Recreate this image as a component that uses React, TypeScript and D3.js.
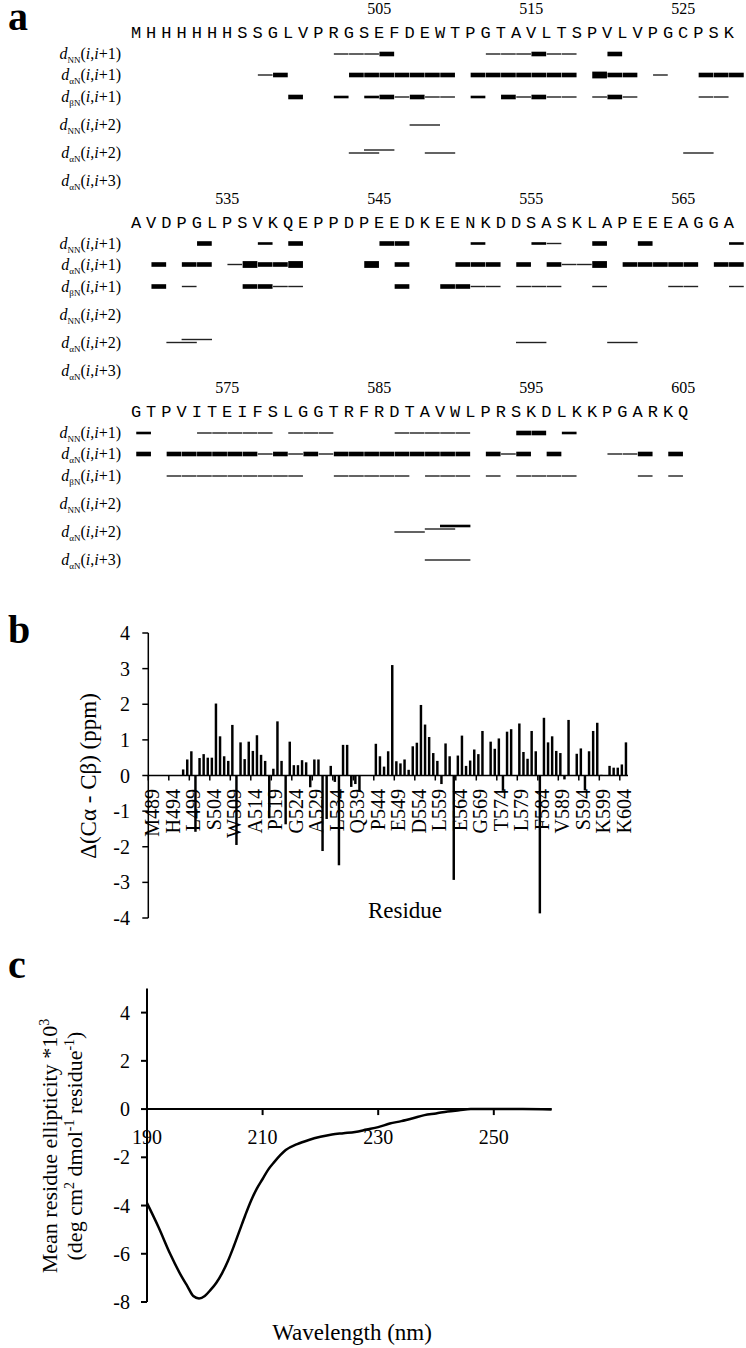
import * as d3 from "d3";

const serif = "'Liberation Serif', 'Times New Roman', serif";
const seqFont = "'Courier New', 'Liberation Mono', monospace";

// ---------- panel a: sequence and sequential NOE connectivities ----------
const sequence =
  "MHHHHHHSSGLVPRGSEFDEWTPGTAVLTSPVLVPGCPSK" +
  "AVDPGLPSVKQEPPDPEEDKEENKDDSASKLAPEEEAGGA" +
  "GTPVITEIFSLGGTRFRDTAVWLPRSKDLKKPGARKQ";
const firstResidue = 489;
const firstNumbered = 505;
const perLine = 40;

const noeRows = [
  { sub: "NN", k: 1 },
  { sub: "αN", k: 1 },
  { sub: "βN", k: 1 },
  { sub: "NN", k: 2 },
  { sub: "αN", k: 2 },
  { sub: "αN", k: 3 },
];

// [from residue, to residue, strength 1 weak .. 4 very strong, stack level]
const dNN1 = [
  [502, 505, 1], [505, 506, 3], [512, 515, 1], [515, 516, 3], [516, 518, 1], [520, 521, 3],
  [533, 534, 3], [537, 538, 2], [539, 540, 3], [545, 547, 3], [551, 552, 2], [555, 556, 2],
  [556, 557, 1], [559, 560, 3], [562, 563, 3], [568, 569, 2],
  [569, 570, 2], [573, 578, 1], [579, 582, 1], [586, 591, 1], [594, 596, 3], [597, 598, 2],
];
const daN1 = [
  [497, 498, 1], [498, 499, 3], [503, 510, 3], [511, 518, 3], [519, 520, 4], [520, 522, 3],
  [523, 524, 1], [526, 529, 3],
  [530, 531, 3], [532, 534, 3], [535, 536, 1], [536, 537, 4], [537, 539, 3], [539, 540, 4],
  [544, 545, 4], [546, 547, 3], [550, 553, 3], [554, 555, 3], [556, 557, 3], [557, 559, 1],
  [559, 560, 4], [561, 566, 3], [567, 569, 3],
  [569, 570, 3], [571, 577, 3], [577, 578, 1], [578, 579, 3], [579, 580, 1], [580, 581, 3],
  [581, 582, 1], [582, 591, 3], [592, 593, 3], [593, 594, 1], [594, 595, 3], [596, 597, 3],
  [600, 602, 1], [602, 603, 3], [604, 605, 3],
];
const dbN1 = [
  [499, 500, 3], [502, 503, 2], [504, 505, 2], [505, 506, 3], [506, 507, 1], [507, 508, 3],
  [508, 510, 1], [511, 512, 2], [513, 514, 3], [514, 515, 1], [515, 516, 3], [516, 518, 1],
  [519, 520, 1], [520, 521, 3], [521, 522, 1], [526, 528, 1],
  [530, 531, 3], [532, 533, 1], [536, 538, 3], [538, 540, 1], [546, 547, 3], [549, 551, 3],
  [551, 553, 1], [554, 557, 1], [559, 560, 1], [564, 566, 1], [568, 569, 1],
  [571, 580, 1], [582, 587, 1], [588, 591, 1], [592, 593, 1], [594, 598, 1], [602, 603, 1],
  [604, 605, 1],
];
const dNN2 = [[507, 509, 1]];
const daN2 = [
  [503, 505, 1, 0], [504, 506, 1, 1], [508, 510, 1, 0], [525, 527, 1, 0],
  [531, 533, 1, 0], [532, 534, 1, 1], [554, 556, 1, 0], [560, 562, 1, 0],
  [586, 588, 1, 0], [588, 590, 1, 1], [589, 591, 2, 2],
];
const daN3 = [[588, 591, 1]];
const noeData = [dNN1, daN1, dbN1, dNN2, daN2, daN3];

// ---------- panel b: secondary chemical shifts ----------
const deltaCaCb = [
  0, 0, 0, 0, 0, 0, 0, 0, 0.17, 0.45,
  0.68, -1.58, 0.49, 0.6, 0.5, 0.5, 2.02, 1.1, 0.54, 0.41,
  1.42, -1.95, 0.93, 0.46, 0.95, 0.69, 1.13, 0.58, 0.41, -1.2,
  0.19, 1.52, 0.41, -1.37, 0.95, 0.29, 0.29, 0.43, 0.37, -0.33,
  0.45, 0.45, -2.12, -1.22, 0.27, -0.18, -2.52, 0.86, 0.86, -0.32,
  -0.24, -0.45, 0, 0, 0, 0.89, 0.54, 0.25, 0.68, 3.1,
  0.4, 0.34, 0.45, 0.16, 0.82, 0.92, 1.98, 1.43, 1.08, 0.63,
  0.41, -0.24, 0.9, 0.54, -2.93, 0.56, 1.12, 0.27, 0.42, 0.73,
  0.6, 1.25, 0, 0.95, 0.75, 1.04, -0.43, 1.23, 1.3, 0,
  1.46, 0.66, 0.47, 1.25, 0.68, -3.87, 1.62, 0.93, 1.1, 0.69,
  0.63, -0.11, 1.56, 0, 0.61, 0.76, -0.42, 0.68, 1.25, 1.48,
  0.02, 0, 0.27, 0.22, 0.22, 0.31, 0.93,
];
const shiftTicks = [-4, -3, -2, -1, 0, 1, 2, 3, 4];

// ---------- panel c: far-UV CD spectrum ----------
const cdWavelength = [
  190, 192, 194, 196, 197, 198, 199, 200, 201, 202, 203, 204, 205, 206, 207, 208, 209, 210,
  211, 212, 214, 216, 218, 220, 222, 224, 226, 228, 230, 232, 234, 236, 238, 240, 242, 244,
  246, 248, 250, 255, 260,
];
const cdEllipticity = [
  -3.9, -4.9, -6.0, -6.95, -7.35, -7.75, -7.85, -7.75, -7.5, -7.2, -6.8, -6.3, -5.7, -5.05,
  -4.4, -3.8, -3.3, -2.9, -2.5, -2.2, -1.7, -1.45, -1.28, -1.15, -1.05, -1.0, -0.95, -0.85,
  -0.75, -0.6, -0.5, -0.38, -0.25, -0.18, -0.1, -0.05, 0, 0, 0, 0, -0.02,
];
const cdYTicks = [-8, -6, -4, -2, 0, 2, 4];
const cdXTicks = [190, 210, 230, 250];

function PanelA() {
  const x = d3.scaleLinear().domain([0, perLine - 1]).range([136, 728.8]);
  const lineTop = (b: number) => b * 189.5;
  const rowY = [54, 75, 97, 125, 153, 181];
  const thick: Record<number, number> = { 1: 1.4, 2: 2.6, 3: 4.6, 4: 6.8 };
  const lines = d3.range(Math.ceil(sequence.length / perLine));

  return (
    <g>
      <text x={8} y={30} fontFamily={serif} fontWeight="bold" fontSize={40}>a</text>
      {lines.map((b) => {
        const top = lineTop(b);
        const chars = sequence.slice(b * perLine, b * perLine + perLine).split("");
        return (
          <g key={b}>
            {chars.map((ch, j) => {
              const num = firstResidue + b * perLine + j;
              return (
                <g key={j}>
                  <text x={x(j)} y={top + 38} textAnchor="middle" fontFamily={seqFont} fontSize={17}>{ch}</text>
                  {num >= firstNumbered && num % 10 === 5 && (
                    <text x={x(j)} y={top + 14} textAnchor="middle" fontFamily={serif} fontSize={16}>{num}</text>
                  )}
                </g>
              );
            })}
            {noeRows.map((r, ri) => (
              <text key={ri} x={121} y={top + rowY[ri] + 5} textAnchor="end" fontFamily={serif} fontSize={16}>
                <tspan fontStyle="italic">d</tspan>
                <tspan fontSize={9} dy={4}>{r.sub}</tspan>
                <tspan dy={-4}>(</tspan>
                <tspan fontStyle="italic">i</tspan>
                <tspan>,</tspan>
                <tspan fontStyle="italic">i</tspan>
                <tspan>{`+${r.k})`}</tspan>
              </text>
            ))}
          </g>
        );
      })}
      {noeData.map((segs, ri) =>
        segs.map((s, si) => {
          const [from, to, str, lvl = 0] = s;
          const b = Math.floor((from - firstResidue) / perLine);
          const j0 = from - firstResidue - b * perLine;
          const j1 = to - firstResidue - b * perLine;
          const h = thick[str];
          const cy = lineTop(b) + rowY[ri] - lvl * 3;
          const color = str === 1 ? "#222" : "#000";
          if (noeRows[ri].k > 1) {
            return <rect key={`${ri}-${si}`} x={x(j0)} width={x(j1) - x(j0)} y={cy - h / 2} height={h} fill={color} />;
          }
          return (
            <g key={`${ri}-${si}`}>
              {d3.range(j0, j1).map((j) => (
                <rect key={j} x={x(j) + 0.25} width={x(j + 1) - x(j) - 0.5} y={cy - h / 2} height={h} fill={color} />
              ))}
            </g>
          );
        })
      )}
    </g>
  );
}

function PanelB() {
  const idx = d3.range(deltaCaCb.length);
  const x = d3.scaleBand<number>().domain(idx).range([148.3, 628]).paddingInner(0.4).paddingOuter(0.2);
  const y = d3.scaleLinear().domain([-4, 4]).range([918, 633]);
  const half = (x.step() - x.bandwidth()) / 2;
  const labelIdx = idx.filter((i) => i % 5 === 0);

  return (
    <g>
      <text x={8} y={643} fontFamily={serif} fontWeight="bold" fontSize={40}>b</text>
      {idx.filter((i) => deltaCaCb[i] !== 0).map((i) => {
        const v = deltaCaCb[i];
        return (
          <rect key={i} x={x(i)} width={x.bandwidth()} y={y(Math.max(0, v))} height={Math.abs(y(v) - y(0))} fill="#000" />
        );
      })}
      <line x1={x.range()[0]} x2={x.range()[0]} y1={y(4)} y2={y(-4)} stroke="#000" strokeWidth={1.5} />
      <line x1={x.range()[0]} x2={x.range()[1]} y1={y(0)} y2={y(0)} stroke="#000" strokeWidth={1.5} />
      {shiftTicks.map((t) => (
        <g key={t}>
          <line x1={x.range()[0] - 6} x2={x.range()[0]} y1={y(t)} y2={y(t)} stroke="#000" strokeWidth={1.5} />
          <text x={130} y={y(t)} dy="0.35em" textAnchor="end" fontFamily={serif} fontSize={20}>{t}</text>
        </g>
      ))}
      {labelIdx.map((i) => (
        <g key={i}>
          <line x1={x(i)! - half} x2={x(i)! - half} y1={y(0)} y2={y(0) + 5} stroke="#000" strokeWidth={1.5} />
          <text
            transform={`translate(${x(i)! + x.bandwidth() / 2 + 2},789) rotate(-90)`}
            textAnchor="end"
            dy="0.35em"
            fontFamily={serif}
            fontSize={20}
          >
            {`${sequence[i]}${firstResidue + i}`}
          </text>
        </g>
      ))}
      <text x={405} y={918} textAnchor="middle" fontFamily={serif} fontSize={23}>Residue</text>
      <text transform={`translate(96,776) rotate(-90)`} textAnchor="middle" fontFamily={serif} fontSize={23}>
        Δ(Cα - Cβ) (ppm)
      </text>
    </g>
  );
}

function PanelC() {
  const x = d3.scaleLinear().domain([190, 260]).range([147, 551.6]);
  const y = d3.scaleLinear().domain([-8, 5]).range([1302, 988.5]);
  const pts = cdWavelength.map((w, i) => [w, cdEllipticity[i]] as [number, number]);
  const line = d3
    .line<[number, number]>()
    .x((d) => x(d[0]))
    .y((d) => y(d[1]))
    .curve(d3.curveMonotoneX);

  return (
    <g>
      <text x={8} y={978} fontFamily={serif} fontWeight="bold" fontSize={40}>c</text>
      <path d={line(pts) ?? ""} fill="none" stroke="#000" strokeWidth={2.5} />
      <line x1={x(190)} x2={x(190)} y1={y(5)} y2={y(-8)} stroke="#000" strokeWidth={2} />
      <line x1={x(190)} x2={x(260)} y1={y(0)} y2={y(0)} stroke="#000" strokeWidth={2} />
      {cdYTicks.map((t) => (
        <g key={t}>
          <line x1={x(190) - 6} x2={x(190)} y1={y(t)} y2={y(t)} stroke="#000" strokeWidth={2} />
          <text x={130} y={y(t)} dy="0.35em" textAnchor="end" fontFamily={serif} fontSize={20}>{t}</text>
        </g>
      ))}
      {cdXTicks.map((t) => (
        <g key={t}>
          <line x1={x(t)} x2={x(t)} y1={y(0)} y2={y(0) + 6} stroke="#000" strokeWidth={2} />
          <text x={x(t)} y={y(0) + 35} textAnchor="middle" fontFamily={serif} fontSize={20}>{t}</text>
        </g>
      ))}
      <text x={352} y={1340} textAnchor="middle" fontFamily={serif} fontSize={23}>Wavelength (nm)</text>
      <text transform={`translate(57,1146) rotate(-90)`} textAnchor="middle" fontFamily={serif} fontSize={22}>
        Mean residue ellipticity *10<tspan fontSize={14} dy={-8}>3</tspan>
      </text>
      <text transform={`translate(82,1146) rotate(-90)`} textAnchor="middle" fontFamily={serif} fontSize={22}>
        (deg cm<tspan fontSize={14} dy={-8}>2</tspan>
        <tspan dy={8}> dmol</tspan>
        <tspan fontSize={14} dy={-8}>-1</tspan>
        <tspan dy={8}> residue</tspan>
        <tspan fontSize={14} dy={-8}>-1</tspan>
        <tspan dy={8}>)</tspan>
      </text>
    </g>
  );
}

export default function App() {
  return (
    <svg
      width={746}
      height={1348}
      viewBox="0 0 746 1348"
      style={{ position: "absolute", left: 0, top: 0, background: "#fff" }}
    >
      <PanelA />
      <PanelB />
      <PanelC />
    </svg>
  );
}
